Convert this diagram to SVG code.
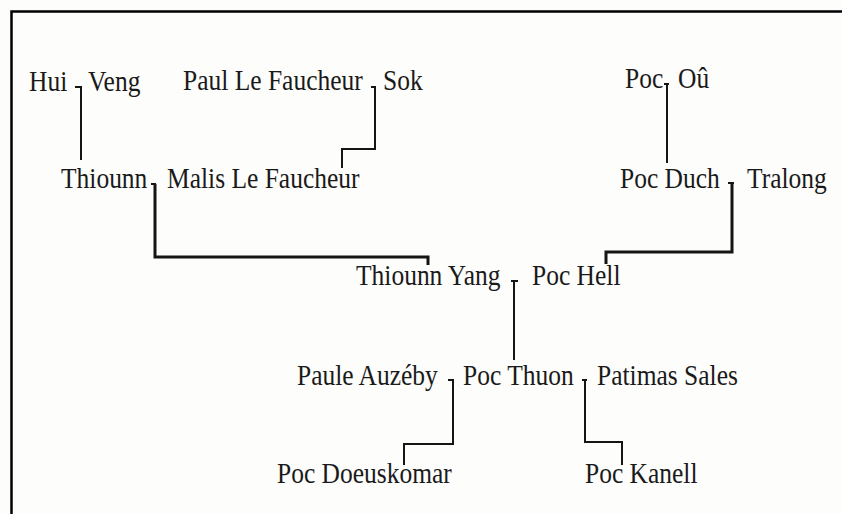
<svg xmlns="http://www.w3.org/2000/svg" width="842" height="514" viewBox="0 0 842 514">
<style>
text{font-family:"Liberation Serif","Times New Roman",serif;font-size:25.5px;fill:#1a1a1a}
.c{fill:none;stroke:#151515;stroke-width:2}
.t{fill:none;stroke:#151515;stroke-width:3}
</style>
<rect width="842" height="514" fill="#fdfdfc"/>
<path d="M11.5,514 V11.5 H842" fill="none" stroke="#000" stroke-width="2.5"/>
<g id="connectors">
<path class="c" d="M75,87 H81 V160"/>
<path class="c" d="M371,87 H375 V149 H342 V168"/>
<path class="c" d="M664,84 H669 M667,84 V163"/>
<path class="c" d="M151,184 H156"/>
<path class="t" d="M155,184 V257 H428 V265"/>
<path class="c" d="M728,183 H734"/>
<path class="t" d="M732,183 V252 H606 V264"/>
<path class="c" d="M511,281 H518 M514,281 V360"/>
<path class="c" d="M448,380 H453 V444 H404 V465"/>
<path class="c" d="M582,380 H587 M585,380 V442 H622 V465"/>
</g>
<g transform="scale(1,1.12)">
<g id="n-hui"><text x="29" y="81.25">Hui</text></g>
<g id="n-veng"><text x="88" y="81.25">Veng</text></g>
<g id="n-paul"><text x="183" y="80.4">Paul Le Faucheur</text></g>
<g id="n-sok"><text x="383" y="80.4">Sok</text></g>
<g id="n-poc"><text x="625" y="78.6">Poc</text></g>
<g id="n-ou"><text x="678" y="78.6">Oû</text></g>
<g id="n-thiounn"><text x="61" y="167.9">Thiounn</text></g>
<g id="n-malis"><text x="167" y="167.9">Malis Le Faucheur</text></g>
<g id="n-pocduch"><text x="620" y="167.9">Poc Duch</text></g>
<g id="n-tralong"><text x="747" y="167.9">Tralong</text></g>
<g id="n-thiounnyang"><text x="356" y="254.5">Thiounn Yang</text></g>
<g id="n-pochell"><text x="532" y="254.5">Poc Hell</text></g>
<g id="n-paule"><text x="297" y="343.75">Paule Auzéby</text></g>
<g id="n-pocthuon"><text x="463" y="343.75">Poc Thuon</text></g>
<g id="n-patimas"><text x="597" y="343.75">Patimas Sales</text></g>
<g id="n-doeuskomar"><text x="277" y="431.25">Poc Doeuskomar</text></g>
<g id="n-kanell"><text x="585" y="431.25">Poc Kanell</text></g>
</g>
</svg>
